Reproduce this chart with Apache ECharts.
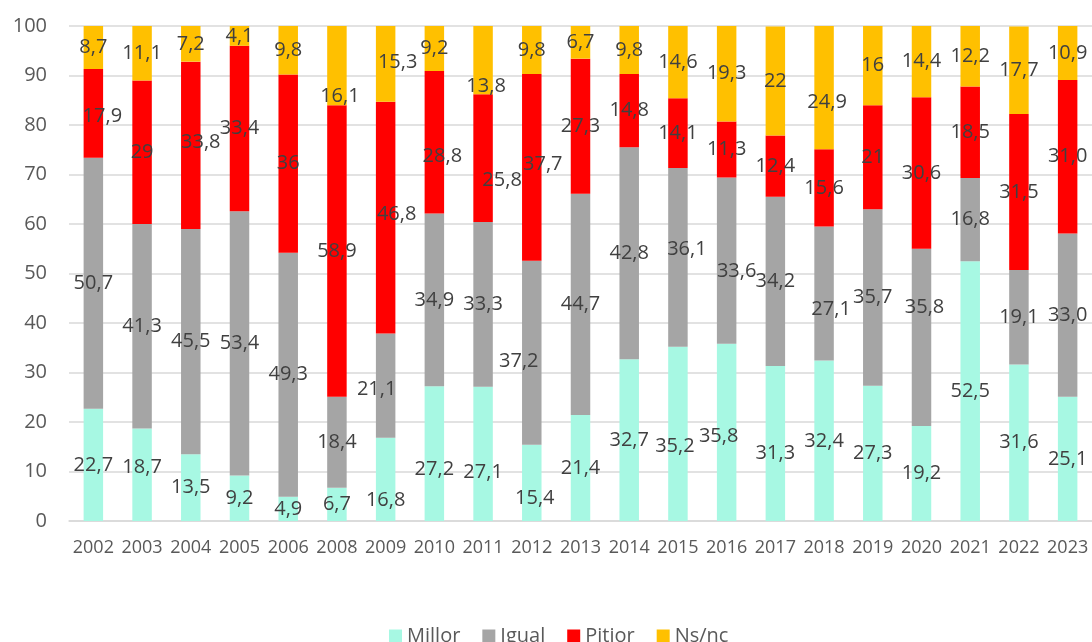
<!DOCTYPE html>
<html>
<head>
<meta charset="utf-8">
<script src="https://cdn.jsdelivr.net/npm/echarts@6/dist/echarts.min.js"></script>
<style>
html,body{margin:0;padding:0;background:#fff;}
#chart{width:1092px;height:642px;}
</style>
</head>
<body>
<div id="chart"></div>
<script>
const years = ['2002','2003','2004','2005','2006','2008','2009','2010','2011','2012','2013','2014','2015','2016','2017','2018','2019','2020','2021','2022','2023'];
const millor = [22.7,18.7,13.5,9.2,4.9,6.7,16.8,27.2,27.1,15.4,21.4,32.7,35.2,35.8,31.3,32.4,27.3,19.2,52.5,31.6,25.1];
const igual  = [50.7,41.3,45.5,53.4,49.3,18.4,21.1,34.9,33.3,37.2,44.7,42.8,36.1,33.6,34.2,27.1,35.7,35.8,16.8,19.1,33.0];
const pitjor = [17.9,29,33.8,33.4,36,58.9,46.8,28.8,25.8,37.7,27.3,14.8,14.1,11.3,12.4,15.6,21,30.6,18.5,31.5,31.0];
const nsnc   = [8.7,11.1,7.2,4.1,9.8,16.1,15.3,9.2,13.8,9.8,6.7,9.8,14.6,19.3,22,24.9,16,14.4,12.2,17.7,10.9];
const seriesNames = ['Millor','Igual','Pitjor','Ns/nc'];
const yTicks = [0,10,20,30,40,50,60,70,80,90,100];
const oneDecimalYears = ['2023'];

// label nudges (px) as placed in the original chart
const labelNudge = {
  Millor: {1:[0,-7],6:[0,21],7:[0,16],8:[0,18],9:[3,15],12:[-3,12],13:[-8,4],14:[0,10]},
  Igual:  {6:[-9,4],9:[-13,9],12:[9,-8],13:[10,11],15:[7,16],17:[3,-30]},
  Pitjor: {0:[9,3],2:[10,-3],6:[11,-3],7:[8,14],8:[19,22],9:[11,-3]},
  'Ns/nc':{5:[3,31],6:[12,-2],8:[3,26],15:[3,15]}
};
const colors = ['#A7F8E3','#A5A5A5','#FF0000','#FFC000'];
const FONT = "'Open Sans', 'Noto Sans', sans-serif";

function build(name, arr){
  return arr.map((v,i)=>{
    const item = {value:v};
    const n = labelNudge[name][i];
    if(n) item.label = {offset:n};
    return item;
  });
}
function fmt(p){
  const v = p.value;
  let s = oneDecimalYears.indexOf(years[p.dataIndex])>=0 ? v.toFixed(1) : String(v);
  return s.replace('.', ',');
}
const dataSets = [millor, igual, pitjor, nsnc];
const chart = echarts.init(document.getElementById('chart'), null, {renderer:'canvas'});
chart.setOption({
  animation:false,
  color: colors,
  grid:{left:69, right:0, top:26, bottom:121, containLabel:false},
  legend:{
    data: seriesNames,
    left: 384, top: 621,
    icon:'rect', itemWidth:13, itemHeight:13, itemGap:22,
    textStyle:{color:'#595959', fontSize:20, fontFamily:FONT}
  },
  xAxis:{
    type:'category', data: years,
    axisLine:{lineStyle:{color:'#D9D9D9', width:1.5}},
    axisTick:{show:false},
    axisLabel:{color:'#595959', fontSize:18, fontFamily:FONT, margin:18, interval:0}
  },
  yAxis:{
    type:'value', min:yTicks[0], max:yTicks[yTicks.length-1], interval:10,
    axisLine:{show:false}, axisTick:{show:false},
    axisLabel:{color:'#595959', fontSize:20, fontFamily:FONT, margin:22},
    splitLine:{lineStyle:{color:'#D9D9D9', width:1.5}}
  },
  series: seriesNames.map((name,k)=>({
    name, type:'bar', stack:'total', barWidth:'40%',
    data: build(name, dataSets[k]),
    label:{show:true, position:'inside', formatter:fmt, color:'#404040', fontSize:20, fontFamily:FONT}
  }))
});
</script>
</body>
</html>
